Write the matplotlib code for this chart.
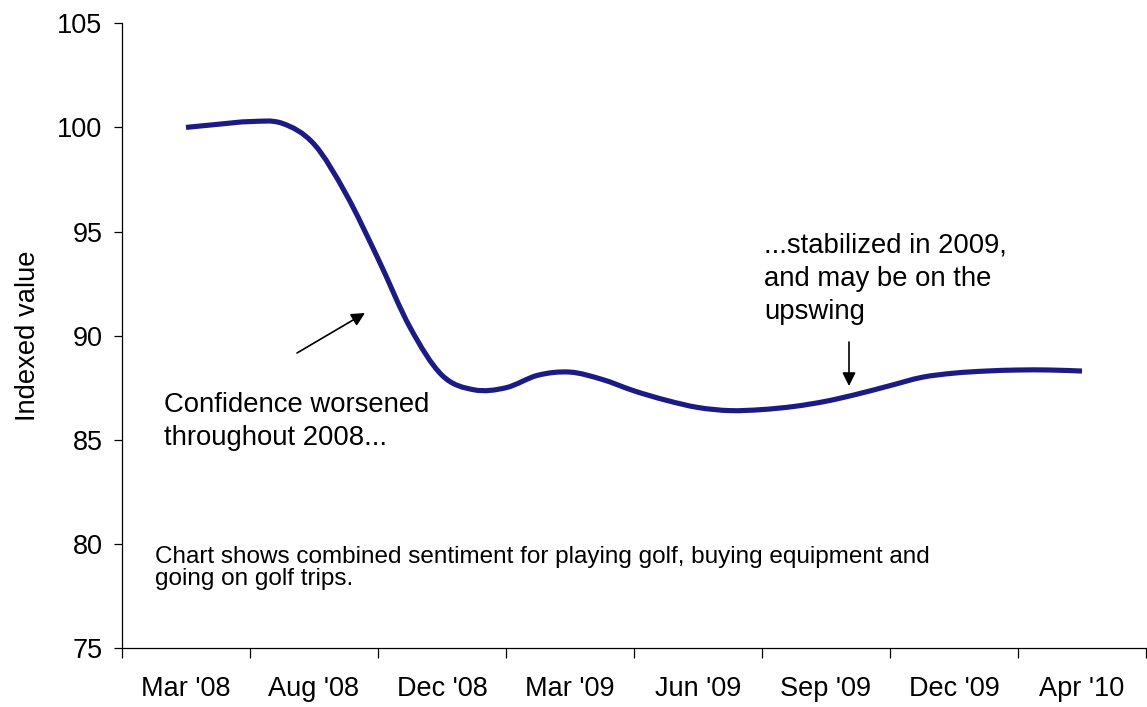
import numpy as np
import matplotlib
matplotlib.use('Agg')
import matplotlib.pyplot as plt
from matplotlib.path import Path
from matplotlib.patches import PathPatch
from matplotlib.ticker import FixedLocator, FixedFormatter, NullFormatter

plt.rcParams['font.family'] = ['Liberation Sans', 'DejaVu Sans']

# ---------------- data ----------------
categories = ["Mar '08", "Aug '08", "Dec '08", "Mar '09", "Jun '09",
              "Sep '09", "Dec '09", "Apr '10"]
# index value at quarter-category steps (Mar '08 .. Apr '10)
index_values = [100.0, 100.15, 100.28, 100.2, 99.2, 96.8, 93.7, 90.4,
                88.1, 87.4, 87.5, 88.1, 88.25, 87.9, 87.35, 86.9,
                86.55, 86.4, 86.45, 86.6, 86.85, 87.2, 87.6, 88.0,
                88.2, 88.3, 88.35, 88.35, 88.3]
steps_per_category = 4
y_ticks = [75, 80, 85, 90, 95, 100, 105]

note_left = ["Confidence worsened", "throughout 2008..."]
note_right = ["...stabilized in 2009,", "and may be on the", "upswing"]
footnote = ["Chart shows combined sentiment for playing golf, buying equipment and",
            "going on golf trips."]

# ---------------- figure ----------------
W, H = 1147, 707
fig = plt.figure(figsize=(W / 100, H / 100), dpi=100)
fig.patch.set_facecolor('white')
ax = fig.add_axes([122 / W, (H - 648) / H, (1146 - 122) / W, (648 - 23.3) / H])

x = np.arange(len(index_values)) / steps_per_category
y = np.array(index_values, dtype=float)

# smoothed line (Catmull-Rom -> cubic Bezier), like a spreadsheet "smoothed line"
pts = np.column_stack([x, y])
ext = np.vstack([pts[0], pts, pts[-1]])
verts = [tuple(pts[0])]
codes = [Path.MOVETO]
for i in range(len(pts) - 1):
    p0, p1, p2, p3 = ext[i], ext[i + 1], ext[i + 2], ext[i + 3]
    c1 = p1 + (p2 - p0) / 6.0
    c2 = p2 - (p3 - p1) / 6.0
    verts += [tuple(c1), tuple(c2), tuple(p2)]
    codes += [Path.CURVE4] * 3
patch = PathPatch(Path(verts, codes), facecolor='none', edgecolor='#1c1a84',
                  lw=3.7, capstyle='butt', joinstyle='round', transform=ax.transData)
ax.add_patch(patch)

ax.set_xlim(-0.5, len(categories) - 0.5)
ax.set_ylim(y_ticks[0], y_ticks[-1])

for s in ['top', 'right']:
    ax.spines[s].set_visible(False)
for s in ['left', 'bottom']:
    ax.spines[s].set_linewidth(0.9)
    ax.spines[s].set_color('black')

ax.set_yticks(y_ticks)
ax.set_yticklabels([str(v) for v in y_ticks])
ax.tick_params(axis='y', direction='out', length=6, width=0.9, pad=8,
               labelsize=19.5, colors='black')

ax.xaxis.set_major_locator(FixedLocator(np.arange(len(categories) + 1) - 0.5))
ax.xaxis.set_major_formatter(NullFormatter())
ax.xaxis.set_minor_locator(FixedLocator(np.arange(len(categories))))
ax.xaxis.set_minor_formatter(FixedFormatter(categories))
ax.tick_params(axis='x', which='major', direction='out', length=7, width=0.9)
ax.tick_params(axis='x', which='minor', length=0, pad=20, labelsize=19.5)

ax.set_ylabel('Indexed value', fontsize=19.7)
ax.yaxis.set_label_coords(-0.079, 0.5)


def ftext(px, py, s, size):
    fig.text(px / W, 1 - py / H, s, fontsize=size, ha='left', va='baseline',
             color='black')


for i, s in enumerate(note_left):
    ftext(164, 412 + 33 * i, s, 19.8)
for i, s in enumerate(note_right):
    ftext(764, 252 + 33.5 * i, s, 19.8)
for i, s in enumerate(footnote):
    ftext(155, 563 + 22.5 * i, s, 17.5)

arrow = dict(arrowstyle='-|>', color='black', lw=1.2, mutation_scale=20,
             shrinkA=0, shrinkB=0)
ax.annotate('', xy=(365, H - 313), xytext=(297, H - 353),
            xycoords='figure pixels', textcoords='figure pixels', arrowprops=arrow)
ax.annotate('', xy=(849, H - 386), xytext=(849, H - 342),
            xycoords='figure pixels', textcoords='figure pixels', arrowprops=arrow)

fig.savefig('out.png', dpi=100, facecolor='white')
